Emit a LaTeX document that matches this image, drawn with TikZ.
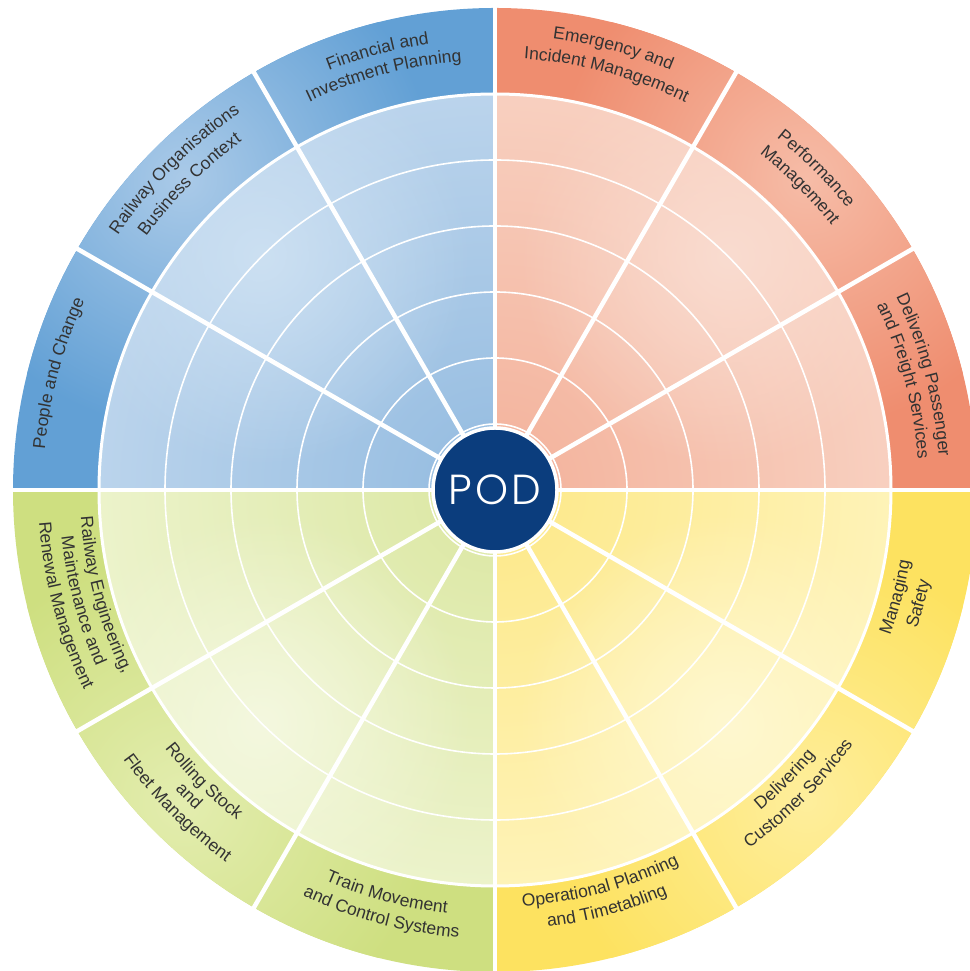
\documentclass[tikz,border=0pt]{standalone}
\usepackage{fontspec}
\setmainfont{Liberation Sans}
\newfontfamily\podfont{Poppins Light}[LetterSpace=8]
\usetikzlibrary{calc,decorations.text,fadings}
\tikzfading[name=podglow, inner color=transparent!0, outer color=transparent!100]
\definecolor{bdark}{HTML}{62A0D5}
\definecolor{blight}{HTML}{AACAE8}
\definecolor{bidark}{HTML}{93BBE0}
\definecolor{bilight}{HTML}{BBD4EC}
\definecolor{biglow}{HTML}{CCE0F2}
\definecolor{rdark}{HTML}{EF8D6F}
\definecolor{rlight}{HTML}{F6BCA7}
\definecolor{ridark}{HTML}{F3B19A}
\definecolor{rilight}{HTML}{F8D0C0}
\definecolor{riglow}{HTML}{FADCD0}
\definecolor{ydark}{HTML}{FDE260}
\definecolor{ylight}{HTML}{FEEE9C}
\definecolor{yidark}{HTML}{FDE887}
\definecolor{yilight}{HTML}{FEF3B8}
\definecolor{yiglow}{HTML}{FFF8D0}
\definecolor{gdark}{HTML}{CEDF80}
\definecolor{glight}{HTML}{E3EDAF}
\definecolor{gidark}{HTML}{DBE7A2}
\definecolor{gilight}{HTML}{ECF3CB}
\definecolor{giglow}{HTML}{F4F8DF}
\definecolor{navy}{HTML}{0B3D7D}
\definecolor{txt}{HTML}{333333}
\newcommand\labstyle{\color{txt}\fontsize{17.5}{20}\selectfont}
\newcommand\podquad[6]{%
  \begin{scope}
    \clip ($(C)+(#1:482)$) arc[start angle=#1, end angle=#1+90, radius=482]
      -- ($(C)+(#1+90:396)$) arc[start angle=#1+90, end angle=#1, radius=396] -- cycle;
    \fill[#2] (C) circle (490);
    \shade[inner color=#3, outer color=#2] ($(C)+(#1+45:440)$) circle (250);
  \end{scope}
  \begin{scope}
    \clip (C) -- ($(C)+(#1:396)$) arc[start angle=#1, end angle=#1+90, radius=396] -- cycle;
    \shade[inner color=#4, outer color=#5] (C) circle (400);
    \fill[#6, path fading=podglow] ($(C)+(#1+45:330)$) circle (210);
  \end{scope}}
\newcommand\toplab[3]{\path[decorate,decoration={text along path,text align=center,text={|\labstyle|#3}}]
  ($(C)+(#1+15:#2)$) arc[start angle=#1+15, end angle=#1-15, radius=#2];}
\newcommand\botlab[3]{\path[decorate,decoration={text along path,text align=center,text={|\labstyle|#3}}]
  ($(C)+(#1-15:#2)$) arc[start angle=#1-15, end angle=#1+15, radius=#2];}
\tikzset{
  ring/.style={draw=white, line width=1.6pt},
  bandedge/.style={draw=white, line width=3pt},
  sep/.style={draw=white, line width=4.5pt},
  podnode/.style={circle, fill=navy, draw=white, line width=3.5pt, minimum size=124pt, inner sep=0pt, text=white, font=\podfont\fontsize{42}{42}\selectfont}
}
\begin{document}
\begin{tikzpicture}[x=1pt,y=1pt]
\useasboundingbox (0,0) rectangle (969,971);
\fill[white] (0,0) rectangle (969,971);
\coordinate (C) at (495,481);
% quadrants
\podquad{90}{bdark}{blight}{bidark}{bilight}{biglow}
\podquad{0}{rdark}{rlight}{ridark}{rilight}{riglow}
\podquad{270}{ydark}{ylight}{yidark}{yilight}{yiglow}
\podquad{180}{gdark}{glight}{gidark}{gilight}{giglow}
% rings
\foreach \r in {66,132,198,264,330} \draw[ring] (C) circle (\r);
\draw[bandedge] (C) circle (396);
% separators
\foreach \a in {0,30,...,330} \draw[sep] (C) -- ($(C)+(\a:484)$);
% centre
\node[podnode] (pod) at (C) {POD};
% labels, upper half
\toplab{105}{451}{Financial and}
\toplab{105}{430}{Investment Planning}
\toplab{135}{455}{Railway Organisations}
\toplab{135}{431}{Business Context}
\toplab{165}{452}{People and Change}
\toplab{75}{455}{Emergency and}
\toplab{75}{432}{Incident Management}
\toplab{45}{451}{Performance}
\toplab{45}{428}{Management}
\toplab{15}{445}{Delivering Passenger}
\toplab{15}{424}{and Freight Services}
% labels, lower half
\botlab{345}{421}{Managing}
\botlab{345}{444}{Safety}
\botlab{315}{416}{Delivering}
\botlab{315}{439}{Customer Services}
\botlab{285}{417}{Operational Planning}
\botlab{285}{440}{and Timetabling}
\botlab{255}{426}{Train Movement}
\botlab{255}{449}{and Control Systems}
\botlab{225}{419}{Rolling Stock}
\botlab{225}{438}{and}
\botlab{225}{459}{Fleet Management}
\botlab{195}{415}{Railway Engineering,}
\botlab{195}{436}{Maintenance and}
\botlab{195}{457}{Renewal Management}
\end{tikzpicture}
\end{document}
